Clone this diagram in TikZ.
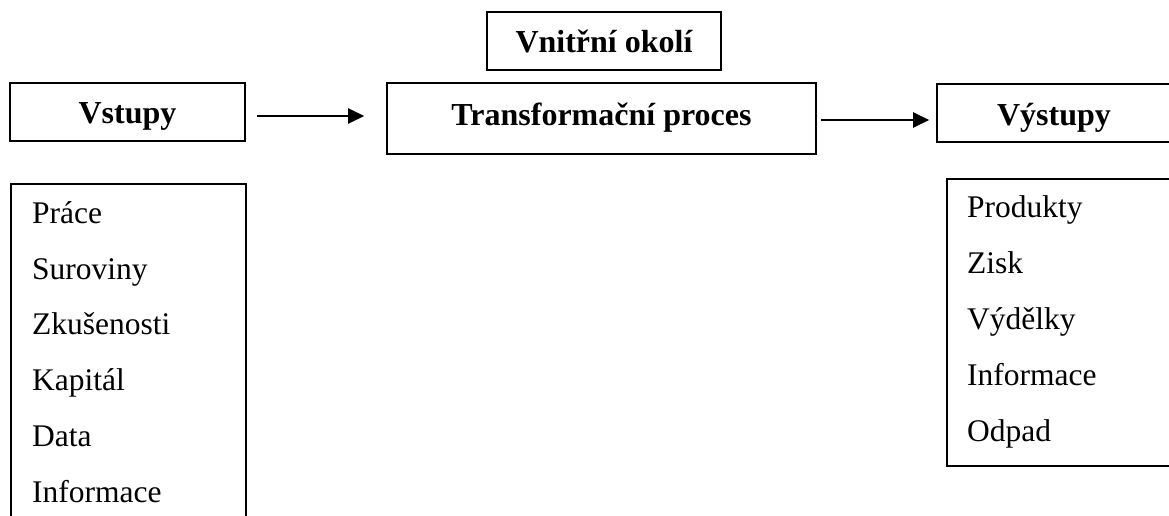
\documentclass[tikz,border=0pt]{standalone}
\usepackage{fontspec}
\setmainfont{Liberation Serif}
\usetikzlibrary{arrows.meta}

\tikzset{
  headbox/.style={draw, line width=1.6pt, inner sep=0pt,
    minimum width=235pt, text height=41pt, text depth=17pt,
    font=\fontsize{32}{36}\selectfont\bfseries},
  listbox/.style={draw, line width=1.6pt, inner sep=0pt, anchor=north west},
  item/.style={anchor=base west, inner sep=0pt,
    font=\fontsize{31.5}{36}\selectfont},
  flow/.style={line width=2.4pt, -{Triangle[length=16pt, width=15pt]}}
}

\begin{document}
\begin{tikzpicture}[x=1pt, y=-1pt]
  \useasboundingbox (0,0) rectangle (1169,516);
  \clip (0,0) rectangle (1169,516);

  % === HEADER ROW ===
  \node[headbox] (vstupy) at (127.5,112) {Vstupy};
  \node[headbox, minimum width=234pt] (okoli) at (604,41) {Vnitřní okolí};
  \node[headbox, minimum width=429pt, text height=42pt, text depth=29pt]
    (transf) at (601.5,118.5) {Transformační proces};
  \node[headbox, minimum width=234pt] (vystupy) at (1054,113) {Výstupy};

  % Arrows between the boxes
  \draw[flow] ([xshift=11pt, yshift=-4pt]vstupy.east)
    -- ([xshift=-22pt, yshift=2.5pt]transf.west);
  \draw[flow] ([xshift=4pt, yshift=-1.5pt]transf.east)
    -- ([xshift=-7pt, yshift=-7pt]vystupy.west);

  % === INPUT LIST ===
  \node[listbox, minimum width=235pt, minimum height=360pt]
    (vstupyList) at (10,183) {};
  \foreach \txt [count=\i] in {Práce, Suroviny, Zkušenosti, Kapitál, Data, Informace}
    \node[item] (in\i) at (32, 167.5+55.8*\i) {\txt};

  % === OUTPUT LIST ===
  \node[listbox, minimum width=240pt, minimum height=287pt]
    (vystupyList) at (946,178) {};
  \foreach \txt [count=\i] in {Produkty, Zisk, Výdělky, Informace, Odpad}
    \node[item] (out\i) at (967, 161+56*\i) {\txt};

\end{tikzpicture}
\end{document}
